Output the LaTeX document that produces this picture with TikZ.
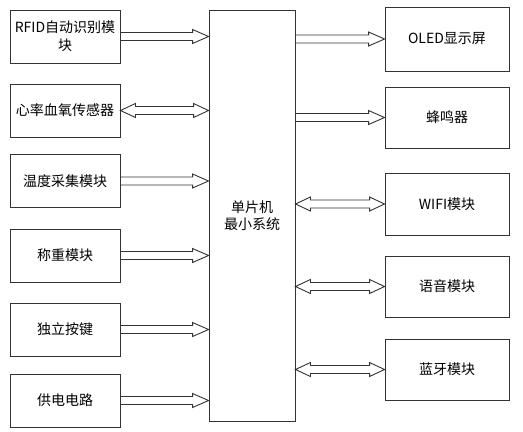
\documentclass[tikz,border=0pt]{standalone}
\usepackage{fontspec}
\setmainfont{Noto Sans CJK SC}
\usetikzlibrary{calc}
\newcommand\onearrow[2]{%
  \draw[arr] let \p1=(#1), \p2=(#2) in
    ({\x1},{\y1+4bp}) -- ({\x2-16bp},{\y1+4bp}) -- ({\x2-16bp},{\y1+7bp}) --
    ({\x2},{\y1}) -- ({\x2-16bp},{\y1-7bp}) -- ({\x2-16bp},{\y1-4bp}) -- ({\x1},{\y1-4bp});}
\newcommand\twoarrow[2]{%
  \draw[arr] let \p1=(#1), \p2=(#2) in
    ({\x1},{\y1}) -- ({\x1+15bp},{\y1+7bp}) -- ({\x1+15bp},{\y1+4bp}) --
    ({\x2-15bp},{\y1+4bp}) -- ({\x2-15bp},{\y1+7bp}) -- ({\x2},{\y1}) --
    ({\x2-15bp},{\y1-7bp}) -- ({\x2-15bp},{\y1-4bp}) -- ({\x1+15bp},{\y1-4bp}) --
    ({\x1+15bp},{\y1-7bp}) -- cycle;}
\begin{document}
\begin{tikzpicture}[x=1bp,y=-1bp,
  box/.style={draw=black!80, line width=0.9bp, inner sep=0pt, align=center,
    font=\fontsize{14bp}{18bp}\selectfont},
  lbox/.style={box, minimum width=110bp, minimum height=53bp},
  rbox/.style={box, minimum width=124bp, minimum height=62bp},
  arr/.style={draw=black!80, line width=0.9bp, line join=miter}]
\useasboundingbox (0,0) rectangle (523,431);
\node[lbox] (b1) at (65,36.5) {RFID自动识别模\\块};
\node[lbox] (b2) at (65,110.5) {心率血氧传感器};
\node[lbox] (b3) at (65,181) {温度采集模块};
\node[lbox] (b4) at (65,255.5) {称重模块};
\node[lbox] (b5) at (65,329.5) {独立按键};
\node[lbox] (b6) at (65,400.5) {供电电路};
\node[box, minimum width=86bp, minimum height=411bp,
  font=\fontsize{14bp}{17bp}\selectfont] (c) at (252,215.5) {单片机\\最小系统};
\node[rbox, minimum height=64bp] (r1) at (447,39) {OLED显示屏};
\node[rbox, minimum height=61bp] (r2) at (447,117.5) {蜂鸣器};
\node[rbox] (r3) at (447,204) {WIFI模块};
\node[rbox, minimum height=61bp] (r4) at (447,286.5) {语音模块};
\node[rbox, minimum height=61bp] (r5) at (447,369.5) {蓝牙模块};
\onearrow{b1.east}{c.west |- b1.east}
\twoarrow{b2.east}{c.west |- b2.east}
\onearrow{b3.east}{c.west |- b3.east}
\onearrow{b4.east}{c.west |- b4.east}
\onearrow{b5.east}{c.west |- b5.east}
\onearrow{b6.east}{c.west |- b6.east}
\onearrow{c.east |- r1.west}{r1.west}
\onearrow{c.east |- r2.west}{r2.west}
\twoarrow{c.east |- r3.west}{r3.west}
\twoarrow{c.east |- r4.west}{r4.west}
\twoarrow{c.east |- r5.west}{r5.west}
\end{tikzpicture}
\end{document}
